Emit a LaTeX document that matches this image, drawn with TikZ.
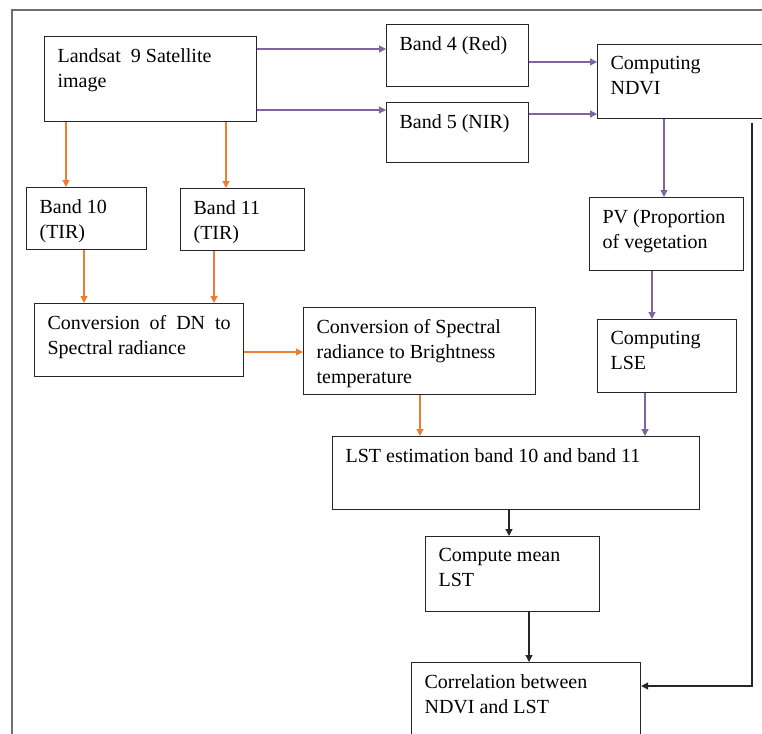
\documentclass[tikz,border=0pt]{standalone}
\usepackage{fontspec}
\setmainfont{Liberation Serif}
\usetikzlibrary{arrows.meta,calc}

\definecolor{flowpurple}{HTML}{8064A2}
\definecolor{floworange}{HTML}{ED7D31}
\definecolor{framegray}{HTML}{6E6E6E}

\begin{document}
\begin{tikzpicture}[x=1pt,y=-1pt,>={Triangle[length=7pt,width=7pt]},line width=1.2pt]
  \tikzstyle{blk}=[draw=black!85,anchor=north west,inner sep=0pt]
  \tikzstyle{txt}=[anchor=north west,align=left,inner sep=0pt,xshift=13pt,yshift=-12pt,font=\fontsize{20}{25}\selectfont]
  \tikzstyle{parr}=[->,draw=flowpurple]
  \tikzstyle{oarr}=[->,draw=floworange]
  \tikzstyle{karr}=[->,draw=black!85]

  \useasboundingbox (0,0) rectangle (762,733);
  \draw[framegray] (12,750) -- (12,10) -- (780,10);

  % top row
  \node[blk,minimum width=212pt,minimum height=85pt,label={[txt]north west:Landsat\ \ 9 Satellite\\image}] (landsat) at (44,36) {};
  \node[blk,minimum width=142pt,minimum height=62pt,label={[txt]north west:Band 4 (Red)}] (b4) at (386,24) {};
  \node[blk,minimum width=142pt,minimum height=60pt,label={[txt]north west:Band 5 (NIR)}] (b5) at (386,102) {};
  \node[blk,minimum width=180pt,minimum height=74pt,label={[txt]north west:Computing\\NDVI}] (ndvi) at (597,44) {};

  % thermal branch
  \node[blk,minimum width=120pt,minimum height=62pt,label={[txt]north west:Band 10\\(TIR)}] (b10) at (26,187) {};
  \node[blk,minimum width=124pt,minimum height=62pt,label={[txt]north west:Band 11\\(TIR)}] (b11) at (180,188) {};
  \node[blk,minimum width=209pt,minimum height=73pt,label={[txt,text width=183pt,align=justify]north west:Conversion of DN to Spectral radiance}] (dn) at (34,303) {};
  \node[blk,minimum width=232pt,minimum height=87pt,label={[txt]north west:Conversion of Spectral\\radiance to Brightness\\temperature}] (bt) at (303,307) {};

  % vegetation branch
  \node[blk,minimum width=154pt,minimum height=73pt,label={[txt]north west:PV (Proportion\\of vegetation}] (pv) at (589,197) {};
  \node[blk,minimum width=139pt,minimum height=73pt,label={[txt]north west:Computing\\LSE}] (lse) at (597,319) {};

  % bottom
  \node[blk,minimum width=367pt,minimum height=73pt,label={[txt]north west:LST estimation band 10 and band 11}] (lst) at (332,436) {};
  \node[blk,minimum width=174pt,minimum height=75pt,label={[txt]north west:Compute mean\\LST}] (mean) at (425,536) {};
  \node[blk,minimum width=229pt,minimum height=95pt,label={[txt]north west:Correlation between\\NDVI and LST}] (corr) at (411,662) {};

  % purple connectors
  \draw[parr] ($(landsat.north east)+(0,13)$) -- ($(b4.north west)+(0,25)$);
  \draw[parr] ($(landsat.north east)+(0,74)$) -- ($(b5.north west)+(0,8)$);
  \draw[parr] ($(b4.north east)+(0,38)$) -- ($(ndvi.north west)+(0,18)$);
  \draw[parr] ($(b5.north east)+(0,12)$) -- ($(ndvi.north west)+(0,70)$);
  \draw[parr] ($(ndvi.south west)+(67,0)$) -- ($(pv.north west)+(75,0)$);
  \draw[parr] ($(pv.south west)+(63,0)$) -- ($(lse.north west)+(55,0)$);
  \draw[parr] ($(lse.south west)+(48,0)$) -- ($(lst.north west)+(313,0)$);

  % orange connectors
  \draw[oarr] ($(landsat.south west)+(22,0)$) -- ($(b10.north west)+(40,0)$);
  \draw[oarr] ($(landsat.south west)+(182,0)$) -- ($(b11.north west)+(46,0)$);
  \draw[oarr] ($(b10.south west)+(58,0)$) -- ($(dn.north west)+(50,0)$);
  \draw[oarr] ($(b11.south west)+(34,0)$) -- ($(dn.north west)+(180,0)$);
  \draw[oarr] ($(dn.north east)+(0,49)$) -- ($(bt.north west)+(0,45)$);
  \draw[oarr] ($(bt.south west)+(117,0)$) -- ($(lst.north west)+(88,0)$);

  % black connectors
  \draw[karr] ($(lst.south west)+(177,0)$) -- ($(mean.north west)+(84,0)$);
  \draw[karr] ($(mean.south west)+(104,0)$) -- ($(corr.north west)+(118,0)$);
  \draw[karr] ($(ndvi.south west)+(155,4)$) |- ($(corr.north east)+(0,24)$);
\end{tikzpicture}
\end{document}
